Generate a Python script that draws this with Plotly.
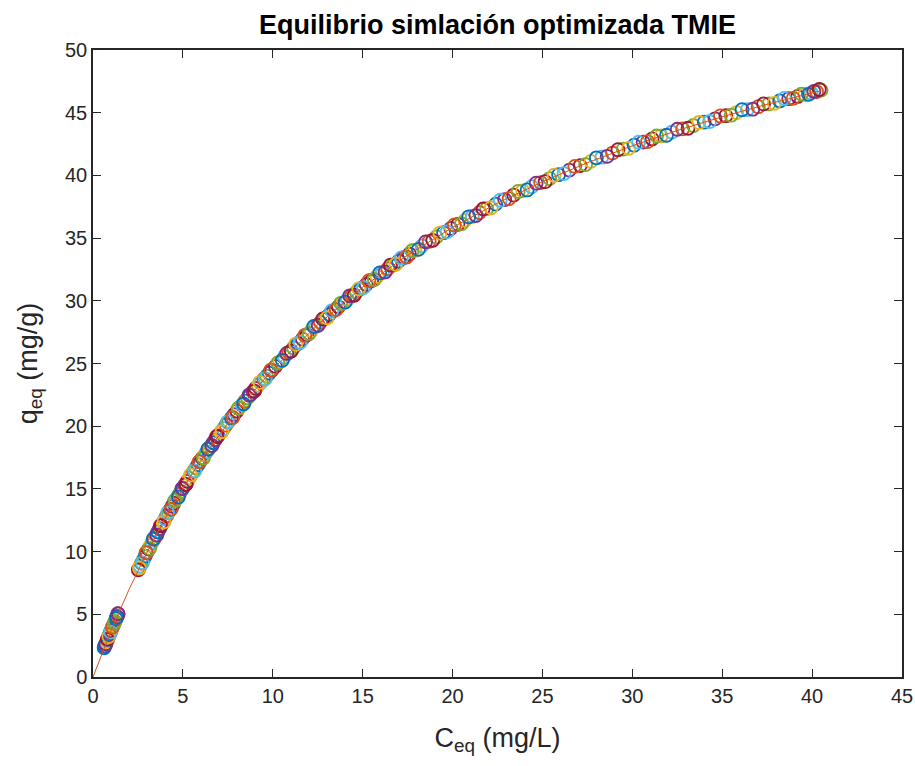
import plotly.graph_objects as go

# Equilibrium concentration (mg/L) of the simulated points
c_eq = [
    0.62, 0.66, 0.70, 0.74, 0.78, 0.82, 0.86, 0.90, 0.95, 1.00, 1.05, 1.10, 1.16, 1.22, 1.28, 1.34, 1.40,
    2.55, 2.62, 2.70, 2.80, 2.90, 3.00, 3.10, 3.20, 3.30, 3.40, 3.50, 3.60, 3.70, 3.80, 3.90,
    4.00, 4.10, 4.20, 4.30, 4.40, 4.50, 4.60, 4.70, 4.80, 4.90, 5.00, 5.12, 5.24, 5.36, 5.48,
    5.60, 5.72, 5.84, 5.96, 6.08, 6.20, 6.32, 6.44, 6.56, 6.68, 6.80, 6.95, 7.10, 7.25, 7.40,
    7.55, 7.70, 7.85, 8.00, 8.15, 8.30, 8.45, 8.60, 8.75, 8.90, 9.05, 9.20, 9.35, 9.50, 9.65,
    9.80, 9.95, 10.15, 10.40, 10.65, 10.90, 11.15, 11.40, 11.65, 11.90, 12.15, 12.40, 12.65,
    12.90, 13.15, 13.40, 13.65, 13.90, 14.15, 14.40, 14.65, 14.90, 15.20, 15.50, 15.80, 16.10,
    16.40, 16.70, 17.00, 17.30, 17.60, 17.90, 18.30, 18.70, 19.10, 19.50, 19.90, 20.30, 20.70,
    21.10, 21.50, 21.90, 22.40, 22.90, 23.40, 23.90, 24.40, 24.90, 25.40, 25.90, 26.50, 27.10,
    27.70, 28.30, 28.90, 29.50, 30.10, 30.60, 31.10, 31.60, 32.20, 32.80, 33.40, 34.00, 34.60,
    35.20, 35.80, 36.40, 37.00, 37.60, 38.20, 38.70, 39.20, 39.60, 39.95, 40.25, 40.50,
]

# Equilibrium uptake (mg/g) of the simulated points
q_eq = [
    2.33, 2.47, 2.62, 2.76, 2.90, 3.04, 3.19, 3.33, 3.50, 3.68, 3.85, 4.02, 4.23, 4.43, 4.63, 4.83, 5.03,
    8.63, 8.84, 9.07, 9.36, 9.64, 9.93, 10.21, 10.49, 10.76, 11.03, 11.30, 11.57, 11.83, 12.09, 12.35,
    12.61, 12.86, 13.12, 13.36, 13.61, 13.86, 14.10, 14.34, 14.58, 14.81, 15.05, 15.33, 15.60, 15.87, 16.14,
    16.41, 16.67, 16.93, 17.19, 17.45, 17.70, 17.95, 18.20, 18.44, 18.68, 18.92, 19.22, 19.51, 19.80, 20.09,
    20.37, 20.65, 20.93, 21.20, 21.47, 21.73, 22.00, 22.26, 22.51, 22.77, 23.02, 23.27, 23.51, 23.75, 23.99,
    24.23, 24.46, 24.77, 25.15, 25.53, 25.89, 26.25, 26.60, 26.95, 27.29, 27.63, 27.96, 28.28,
    28.60, 28.91, 29.22, 29.52, 29.82, 30.11, 30.40, 30.69, 30.97, 31.30, 31.62, 31.94, 32.25,
    32.56, 32.86, 33.16, 33.45, 33.73, 34.01, 34.38, 34.74, 35.09, 35.43, 35.77, 36.10, 36.42,
    36.73, 37.04, 37.35, 37.71, 38.07, 38.43, 38.77, 39.10, 39.43, 39.75, 40.06, 40.42, 40.78,
    41.12, 41.45, 41.78, 42.10, 42.41, 42.66, 42.91, 43.15, 43.44, 43.71, 43.98, 44.25, 44.51,
    44.76, 45.01, 45.25, 45.48, 45.71, 45.94, 46.12, 46.30, 46.45, 46.57, 46.67, 46.80,
]

# Further simulated points lying between the ones above
c_eq_b = [
    0.64, 0.72, 0.80, 0.88, 0.98, 1.08, 1.19, 1.31, 1.38,
    2.52, 2.58, 2.75, 2.95, 3.15, 3.35, 3.55, 3.75, 3.95, 4.15, 4.35, 4.55, 4.75, 4.95,
    5.18, 5.42, 5.66, 5.90, 6.14, 6.38, 6.62, 6.88, 7.18, 7.48, 7.78, 8.08, 8.38, 8.68,
    8.98, 9.28, 9.58, 9.88,
    10.28, 10.53, 10.78, 11.03, 11.28, 11.53, 11.78, 12.03, 12.28, 12.53, 12.78, 13.03,
    13.28, 13.53, 13.78, 14.03, 14.28, 14.53, 14.78, 15.05, 15.35, 15.65, 15.95, 16.25,
    16.55, 16.85, 17.15, 17.45, 17.75, 18.10, 18.50, 18.90, 19.30, 19.70, 20.10, 20.50,
    20.90, 21.30, 21.70, 22.15, 22.65, 23.15, 23.65, 24.15, 24.65, 25.15, 25.65, 26.20,
    26.80, 27.40, 28.00, 28.60, 29.20, 29.80, 30.35, 30.85, 31.35, 31.90, 32.50, 33.10,
    33.70, 34.30, 34.90, 35.50, 36.10, 36.70, 37.30, 37.90, 38.45, 38.95, 39.40, 39.80,
    40.10, 40.40,
]
q_eq_b = [
    2.45, 2.65, 3.00, 3.22, 3.58, 3.98, 4.30, 4.75, 5.05,
    8.55, 8.70, 9.10, 9.90, 10.25, 11.00, 11.33, 12.06, 12.38, 13.09, 13.39, 14.08, 14.36, 15.03,
    15.36, 16.11, 16.44, 17.16, 17.47, 18.17, 18.46, 19.18, 19.57, 20.34, 20.70, 21.44, 21.78, 22.49,
    22.80, 23.50, 23.78, 24.46,
    25.05, 25.25, 25.80, 26.00, 26.55, 26.70, 27.25, 27.40, 27.95, 28.05, 28.55, 28.65,
    29.20, 29.30, 29.80, 29.90, 30.40, 30.45, 30.95, 31.05, 31.60, 31.70, 32.22, 32.30,
    32.85, 32.92, 33.42, 33.50, 34.00, 34.10, 34.70, 34.82, 35.40, 35.50, 36.05, 36.15,
    36.70, 36.80, 37.32, 37.42, 38.02, 38.15, 38.72, 38.84, 39.38, 39.50, 40.02, 40.14,
    40.72, 40.86, 41.40, 41.52, 42.05, 42.16, 42.65, 42.70, 43.14, 43.20, 43.68, 43.76,
    44.22, 44.30, 44.74, 44.80, 45.24, 45.28, 45.70, 45.75, 46.14, 46.15, 46.48, 46.46,
    46.70, 46.85,
]

# Fitted isotherm line
fit_c = [0, 0.5, 1, 2, 3, 4, 5, 6, 8, 10, 12.5, 15, 17.5, 20, 22.5, 25, 27.5, 30, 32.5, 35, 37.5, 40.5]
fit_q = [0, 1.89, 3.68, 6.97, 9.93, 12.61, 15.05, 17.28, 21.20, 24.54, 28.09, 31.08, 33.64, 35.85,
         37.79, 39.49, 41.01, 42.36, 43.58, 44.68, 45.67, 46.76]

x_ticks = [0, 5, 10, 15, 20, 25, 30, 35, 40, 45]
y_ticks = [0, 5, 10, 15, 20, 25, 30, 35, 40, 45, 50]

palette = ["#0072BD", "#D95319", "#EDB120", "#7E2F8E", "#77AC30", "#4DBEEE", "#A2142F"]

all_c = c_eq + c_eq_b
all_q = q_eq + q_eq_b
point_colors = [palette[(i * 3) % len(palette)] for i in range(len(all_c))]

fig = go.Figure()
fig.add_trace(go.Scatter(
    x=all_c, y=all_q, mode="markers",
    marker=dict(symbol="circle-open", size=13, color=point_colors, line=dict(width=1.8)),
    showlegend=False, hoverinfo="skip",
))
fig.add_trace(go.Scatter(
    x=fit_c, y=fit_q, mode="lines",
    line=dict(color="#D95319", width=1),
    showlegend=False, hoverinfo="skip",
))

font_family = "Liberation Sans, Arial"
axis_common = dict(
    showgrid=False, zeroline=False, showline=True, mirror="ticks", automargin=False,
    linecolor="#262626", linewidth=1.5, ticks="inside", ticklen=8, tickwidth=1.2,
    tickcolor="#262626", tickfont=dict(family=font_family, size=20, color="#262626"),
)

fig.update_layout(
    width=915, height=766,
    margin=dict(l=93, r=13, t=50, b=89),
    paper_bgcolor="white", plot_bgcolor="white",
    title=dict(
        text="<b>Equilibrio simlación optimizada TMIE</b>",
        x=0.5, xref="paper", xanchor="center",
        y=1 - 25 / 766, yref="container", yanchor="middle",
        font=dict(family=font_family, size=27, color="black"),
    ),
    xaxis=dict(
        range=[0, 45], tickvals=x_ticks, ticktext=[str(v) for v in x_ticks],
        title=dict(text="C<sub>eq</sub> (mg/L)", standoff=22,
                   font=dict(family=font_family, size=27, color="#262626")),
        **axis_common,
    ),
    yaxis=dict(
        range=[0, 50], tickvals=y_ticks, ticktext=[str(v) for v in y_ticks],
        title=dict(text="q<sub>eq</sub> (mg/g)", standoff=20,
                   font=dict(family=font_family, size=27, color="#262626")),
        **axis_common,
    ),
)

fig.write_html("out.html")
